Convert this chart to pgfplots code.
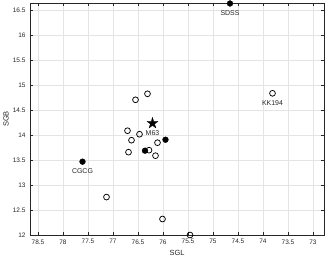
\documentclass[border=0pt]{standalone}
\usepackage{fontspec}
\setmainfont{Liberation Sans}
\usepackage{pgfplots}
\pgfplotsset{compat=1.18}
\definecolor{axgray}{RGB}{38,38,38}
\definecolor{gridgray}{RGB}{228,228,228}
\pgfdeclareplotmark{fstar}{%
  \pgfpathmoveto{\pgfpointpolar{90}{\pgfplotmarksize}}%
  \pgfpathlineto{\pgfpointpolar{126}{0.382\pgfplotmarksize}}%
  \pgfpathlineto{\pgfpointpolar{162}{\pgfplotmarksize}}%
  \pgfpathlineto{\pgfpointpolar{198}{0.382\pgfplotmarksize}}%
  \pgfpathlineto{\pgfpointpolar{234}{\pgfplotmarksize}}%
  \pgfpathlineto{\pgfpointpolar{270}{0.382\pgfplotmarksize}}%
  \pgfpathlineto{\pgfpointpolar{306}{\pgfplotmarksize}}%
  \pgfpathlineto{\pgfpointpolar{342}{0.382\pgfplotmarksize}}%
  \pgfpathlineto{\pgfpointpolar{18}{\pgfplotmarksize}}%
  \pgfpathlineto{\pgfpointpolar{54}{0.382\pgfplotmarksize}}%
  \pgfpathclose
  \pgfusepathqfillstroke}
\begin{document}
\begin{tikzpicture}
\path[use as bounding box] (-30bp,-23bp) rectangle (295bp,235bp);
\begin{axis}[
  at={(0,0)}, anchor=south west,
  scale only axis, width=294bp, height=232bp,
  x dir=reverse,
  xmin=72.78, xmax=78.66, ymin=12, ymax=16.65,
  xtick={73,73.5,...,78.5}, ytick={12,12.5,...,16.5},
  xticklabels={73,73.5,74,74.5,75,75.5,76,76.5,77,77.5,78,78.5},
  yticklabels={12,12.5,13,13.5,14,14.5,15,15.5,16,16.5},
  tick align=inside, ticks=both,
  major tick length=3bp,
  grid=major, major grid style={gridgray, line width=0.4pt},
  axis line style={axgray, line width=0.5pt},
  tick style={axgray, line width=0.5pt},
  tick label style={font=\fontsize{6.5}{7.5}\selectfont, text=axgray},
  xticklabel style={yshift=-1bp},
  yticklabel style={xshift=-1bp},
  /pgf/number format/assume math mode=true,
  xlabel={SGL}, ylabel={SGB},
  label style={font=\fontsize{7.5}{8.5}\selectfont, text=axgray},
  xlabel style={at={(axis description cs:0.5,0)}, anchor=center, yshift=-18bp},
  ylabel style={at={(axis description cs:0,0.5)}, anchor=center, yshift=24bp},
  clip=false,
]
% open circles
\addplot[only marks, mark=o, mark size=2.9bp, mark options={line width=0.75pt, fill=white}] coordinates {
 (76.31,14.83) (76.55,14.71) (76.71,14.09) (76.47,14.02) (76.63,13.90)
 (76.11,13.85) (76.69,13.66) (76.28,13.70) (76.15,13.59)
 (77.13,12.76) (76.01,12.32) (75.46,12.00) (73.81,14.84)
};
% filled circles
\addplot[only marks, mark=*, mark size=2.9bp, black] coordinates {
 (75.95,13.91) (76.36,13.69) (77.61,13.47) (74.66,16.64)
};
% star
\addplot[only marks, mark=fstar, mark size=5.8bp, black, mark options={line width=0.3pt}] coordinates {(76.21,14.24)};
\node[font=\fontsize{7}{8}\selectfont, text=axgray] at (axis cs:76.21,14.24) [yshift=-9.5bp] {M63};
\node[font=\fontsize{7}{8}\selectfont, text=axgray] at (axis cs:77.61,13.47) [yshift=-9.5bp] {CGCG};
\node[font=\fontsize{7}{8}\selectfont, text=axgray] at (axis cs:74.66,16.64) [yshift=-9.5bp] {SDSS};
\node[font=\fontsize{7}{8}\selectfont, text=axgray] at (axis cs:73.81,14.84) [yshift=-9.5bp] {KK194};
\end{axis}
\end{tikzpicture}
\end{document}
